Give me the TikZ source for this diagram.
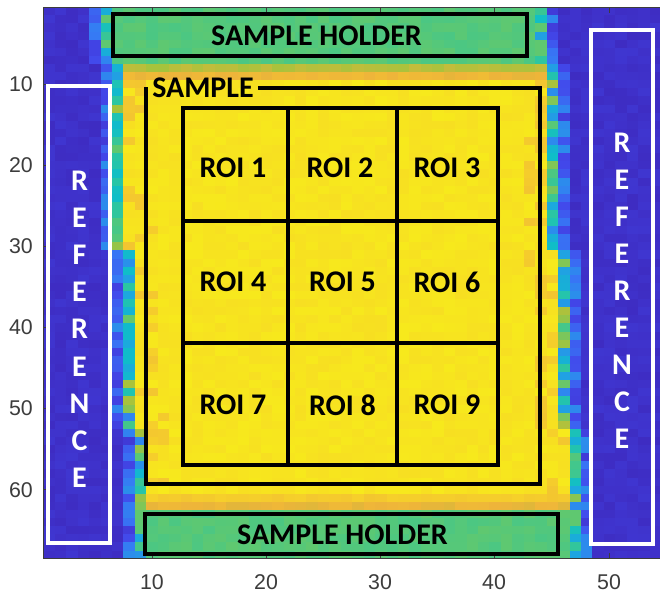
\documentclass[tikz,border=0pt]{standalone}
\usepackage{fontspec}
\setmainfont{Carlito}
\newfontfamily\axisfont{Liberation Sans}

% colour scale used for the intensity map (low -> high)
\definecolor{cm0}{RGB}{62,44,194}
\definecolor{cm1}{RGB}{66,72,235}
\definecolor{cm2}{RGB}{55,120,245}
\definecolor{cm3}{RGB}{30,165,225}
\definecolor{cm4}{RGB}{15,190,200}
\definecolor{cm5}{RGB}{45,198,160}
\definecolor{cm6}{RGB}{95,200,112}
\definecolor{cm7}{RGB}{165,195,60}
\definecolor{cm8}{RGB}{238,180,58}
\definecolor{cm9}{RGB}{246,208,42}
\definecolor{cm10}{RGB}{247,233,28}
\definecolor{axgray}{RGB}{60,60,60}

\begin{document}
\begin{tikzpicture}[x=0.75pt,y=-0.75pt,
  boxline/.style={line width=2.3pt, draw=black, line join=miter},
  refbox/.style={line width=2.3pt, draw=white},
  lbl/.style={font=\fontsize{22.5}{24}\selectfont\bfseries, text=black, inner sep=0pt},
  reflbl/.style={font=\fontsize{22.5}{24}\selectfont\bfseries, text=white, inner sep=0pt},
  ticklbl/.style={font=\axisfont\fontsize{16}{18}\selectfont, text=axgray, inner sep=0pt},
  axline/.style={draw=axgray, line width=0.6pt}]

\useasboundingbox (0,0) rectangle (660,595);
\fill[white] (0,0) rectangle (660,595);

% ---- intensity map: 54 columns x 68 rows ----
\pgfmathsetseed{4217}
\begin{scope}
\clip (43.3,7.2) rectangle (660,558.6);
\foreach \ri in {1,...,68}{
  \pgfmathsetmacro\eL{6.2+3.0*(\ri-1)/67}
  \pgfmathsetmacro\eR{44.2+3.0*(\ri-1)/67}
  \pgfmathsetmacro\m{(\ri<8)*0.6+(\ri==8)*0.74+(\ri==9)*0.83+and(\ri>9,\ri<61)*1.0+(\ri==61)*0.9+(\ri==62)*0.82+(\ri>62)*0.6}
  \foreach \ci in {1,...,54}{
    \pgfmathsetmacro\dd{min(\ci-\eL,\eR-\ci)}
    \pgfmathsetmacro\vv{\dd>0.5 ? (\m-0.04*rnd-(\m>0.9)*(\dd<2.6)*(rnd<0.3)*0.1) : (\dd>-0.5 ? min(\m,0.22+0.5*rnd) : (\dd>-1.5 ? 0.05+0.2*rnd : 0.035*rnd))}
    \pgfmathtruncatemacro\ia{min(9,max(0,floor(\vv*10)))}
    \pgfmathtruncatemacro\ib{\ia+1}
    \pgfmathsetmacro\pp{max(0,min(100,(\vv*10-\ia)*100))}
    \colorlet{cellc}{cm\ib!\pp!cm\ia}
    \fill[cellc] ({43.3+(\ci-1)*11.44},{7.2+(\ri-1)*8.11}) rectangle +(11.8,8.45);
  }
}
\end{scope}

% ---- axes ----
\draw[axline] (660,7.2) -- (43.3,7.2) -- (43.3,558.6) -- (660,558.6);
\foreach \xv/\lab in {152/10,266/20,380/30,494/40,609/50}{
  \draw[axline] (\xv,558.6) -- (\xv,552.6);
  \draw[axline] (\xv,7.2) -- (\xv,13.2);
  \node[ticklbl] (xt\lab) at (\xv,582) {\lab};
}
\foreach \yv/\lab in {84.2/10,165.3/20,246.4/30,327.5/40,408.6/50,489.7/60}{
  \draw[axline] (43.3,\yv) -- (49.3,\yv);
  \node[ticklbl, anchor=east] (yt\lab) at (33,\yv) {\lab};
}

% ---- reference strips ----
\draw[refbox] (48,86) rectangle (110,543);
\draw[refbox] (591,30) rectangle (653,544);
\foreach \ch [count=\k from 0] in {R,E,F,E,R,E,N,C,E}{
  \node[reflbl] (refL\k) at (79.5,{181+37.06*\k}) {\ch};
  \node[reflbl] (refR\k) at (622,{142.5+37*\k}) {\ch};
}

% ---- sample holder boxes ----
\draw[boxline] (113,14) rectangle (527,56);
\node[lbl] (holderTop) at (316.5,35.5) {SAMPLE HOLDER};
\draw[boxline] (145,514) rectangle (558,554);
\node[lbl] (holderBot) at (342.5,534.5) {SAMPLE HOLDER};

% ---- sample outline ----
\node[lbl] (sample) at (203,87.5) {SAMPLE};
\draw[boxline] (258,88) -- (540,88) -- (540,484) -- (146,484) -- (146,87);

% ---- 3x3 grid of regions of interest ----
\draw[boxline] (183,108) rectangle (498,465);
\draw[boxline] (288,108) -- (288,465);
\draw[boxline] (397,108) -- (397,465);
\draw[boxline] (183,221) -- (498,221);
\draw[boxline] (183,343) -- (498,343);
\foreach \n/\xx/\yy in {1/233/168,2/340/168,3/447/168,4/233/282,5/342.5/282,6/447/282,7/233/405,8/342.5/405,9/447/405}{
  \node[lbl] (roi\n) at (\xx,\yy) {ROI \n};
}
\end{tikzpicture}
\end{document}
